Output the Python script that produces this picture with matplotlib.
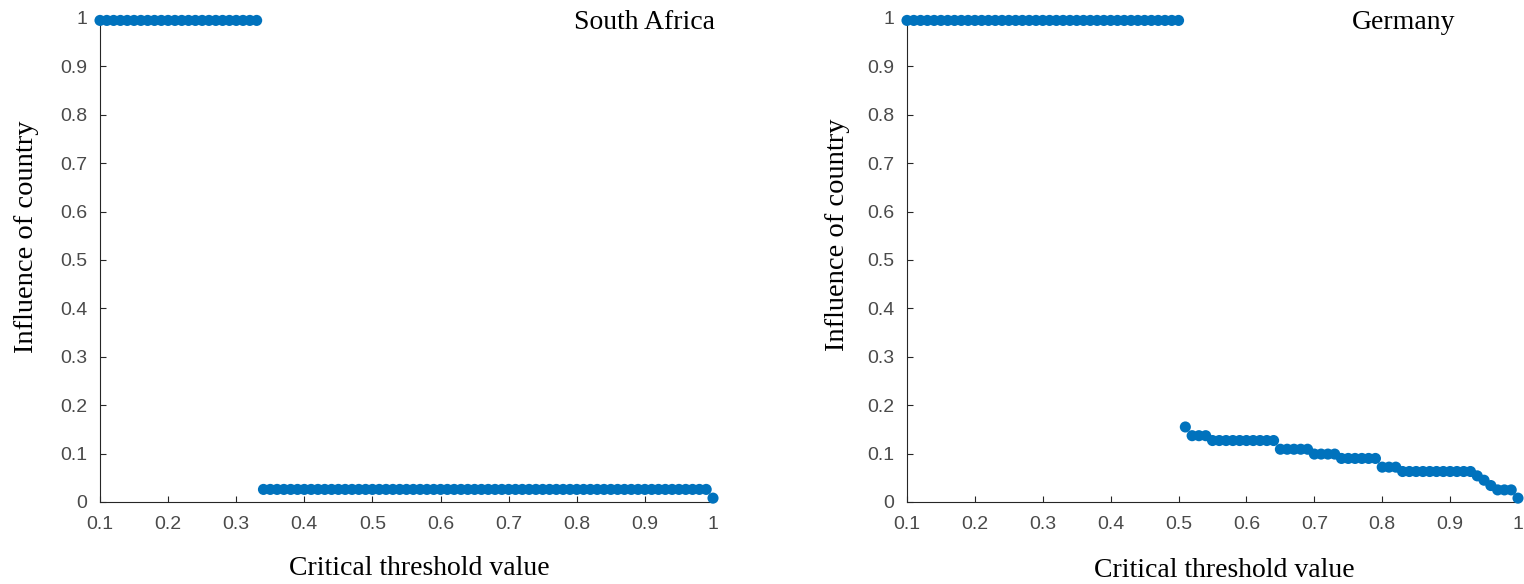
import matplotlib
matplotlib.use("Agg")
import matplotlib.pyplot as plt

# ---------------- data ----------------
thresholds = [0.10, 0.11, 0.12, 0.13, 0.14, 0.15, 0.16, 0.17, 0.18, 0.19,
              0.20, 0.21, 0.22, 0.23, 0.24, 0.25, 0.26, 0.27, 0.28, 0.29,
              0.30, 0.31, 0.32, 0.33, 0.34, 0.35, 0.36, 0.37, 0.38, 0.39,
              0.40, 0.41, 0.42, 0.43, 0.44, 0.45, 0.46, 0.47, 0.48, 0.49,
              0.50, 0.51, 0.52, 0.53, 0.54, 0.55, 0.56, 0.57, 0.58, 0.59,
              0.60, 0.61, 0.62, 0.63, 0.64, 0.65, 0.66, 0.67, 0.68, 0.69,
              0.70, 0.71, 0.72, 0.73, 0.74, 0.75, 0.76, 0.77, 0.78, 0.79,
              0.80, 0.81, 0.82, 0.83, 0.84, 0.85, 0.86, 0.87, 0.88, 0.89,
              0.90, 0.91, 0.92, 0.93, 0.94, 0.95, 0.96, 0.97, 0.98, 0.99,
              1.00]

south_africa = [0.995, 0.995, 0.995, 0.995, 0.995, 0.995, 0.995, 0.995, 0.995, 0.995,
                0.995, 0.995, 0.995, 0.995, 0.995, 0.995, 0.995, 0.995, 0.995, 0.995,
                0.995, 0.995, 0.995, 0.995, 0.026, 0.026, 0.026, 0.026, 0.026, 0.026,
                0.026, 0.026, 0.026, 0.026, 0.026, 0.026, 0.026, 0.026, 0.026, 0.026,
                0.026, 0.026, 0.026, 0.026, 0.026, 0.026, 0.026, 0.026, 0.026, 0.026,
                0.026, 0.026, 0.026, 0.026, 0.026, 0.026, 0.026, 0.026, 0.026, 0.026,
                0.026, 0.026, 0.026, 0.026, 0.026, 0.026, 0.026, 0.026, 0.026, 0.026,
                0.026, 0.026, 0.026, 0.026, 0.026, 0.026, 0.026, 0.026, 0.026, 0.026,
                0.026, 0.026, 0.026, 0.026, 0.026, 0.026, 0.026, 0.026, 0.026, 0.026,
                0.008]

germany = [0.995, 0.995, 0.995, 0.995, 0.995, 0.995, 0.995, 0.995, 0.995, 0.995,
           0.995, 0.995, 0.995, 0.995, 0.995, 0.995, 0.995, 0.995, 0.995, 0.995,
           0.995, 0.995, 0.995, 0.995, 0.995, 0.995, 0.995, 0.995, 0.995, 0.995,
           0.995, 0.995, 0.995, 0.995, 0.995, 0.995, 0.995, 0.995, 0.995, 0.995,
           0.995, 0.155, 0.137, 0.137, 0.137, 0.127, 0.127, 0.127, 0.127, 0.127,
           0.127, 0.127, 0.127, 0.127, 0.127, 0.109, 0.109, 0.109, 0.109, 0.109,
           0.099, 0.099, 0.099, 0.099, 0.090, 0.090, 0.090, 0.090, 0.090, 0.090,
           0.072, 0.072, 0.072, 0.063, 0.063, 0.063, 0.063, 0.063, 0.063, 0.063,
           0.063, 0.063, 0.063, 0.063, 0.054, 0.045, 0.034, 0.025, 0.025, 0.025,
           0.008]

countries = ["South Africa", "Germany"]
xticks = [0.1, 0.2, 0.3, 0.4, 0.5, 0.6, 0.7, 0.8, 0.9, 1.0]
xtick_labels = ["0.1", "0.2", "0.3", "0.4", "0.5", "0.6", "0.7", "0.8", "0.9", "1"]
yticks = [0.0, 0.1, 0.2, 0.3, 0.4, 0.5, 0.6, 0.7, 0.8, 0.9, 1.0]
ytick_labels = ["0", "0.1", "0.2", "0.3", "0.4", "0.5", "0.6", "0.7", "0.8", "0.9", "1"]
xlabel = "Critical threshold value"
ylabel = "Influence of country"

# ---------------- figure ----------------
W, H = 1524, 584
fig = plt.figure(figsize=(W / 100, H / 100), dpi=100)
fig.patch.set_facecolor("white")

serif = ["Liberation Serif", "DejaVu Serif"]
sans = ["Liberation Sans", "DejaVu Sans"]
marker_color = "#0072BD"
axis_color = "#262626"
tick_color = "#4a4a4a"

def px_rect(x0, x1, ytop, ybot):
    return [x0 / W, 1 - ybot / H, (x1 - x0) / W, (ybot - ytop) / H]

panels = [
    dict(rect=px_rect(100, 713, 18, 502), data=south_africa,
         title_xy=(715, 29), title_ha="right",
         xl_xy=(419, 575), yl_xy=(27, 237)),
    dict(rect=px_rect(907, 1518, 18, 502), data=germany,
         title_xy=(1404, 29), title_ha="center",
         xl_xy=(1224, 577), yl_xy=(838, 235)),
]

for name, p in zip(countries, panels):
    ax = fig.add_axes(p["rect"])
    ax.scatter(thresholds, p["data"], s=64, color=marker_color,
               edgecolors="none", clip_on=False, zorder=3)
    ax.set_xlim(0.1, 1.0)
    ax.set_ylim(0.0, 1.0)
    ax.set_xticks(xticks)
    ax.set_xticklabels(xtick_labels)
    ax.set_yticks(yticks)
    ax.set_yticklabels(ytick_labels)
    for side in ("top", "right"):
        ax.spines[side].set_visible(False)
    for side in ("left", "bottom"):
        ax.spines[side].set_color(axis_color)
        ax.spines[side].set_linewidth(0.8)
    ax.tick_params(direction="in", length=4.5, width=0.8, color=axis_color,
                   labelcolor=tick_color, labelsize=14)
    ax.tick_params(axis="x", pad=10)
    ax.tick_params(axis="y", pad=9)
    for lab in ax.get_xticklabels() + ax.get_yticklabels():
        lab.set_fontfamily(sans)

    tx, ty = p["title_xy"]
    fig.text(tx / W, 1 - ty / H, name, ha=p["title_ha"], va="baseline",
             fontsize=20, family=serif, color="black")
    lx, ly = p["xl_xy"]
    fig.text(lx / W, 1 - ly / H, xlabel, ha="center", va="baseline",
             fontsize=20, family=serif, color="black")
    yx, yy = p["yl_xy"]
    fig.text(yx / W, 1 - yy / H, ylabel, ha="center", va="center",
             rotation=90, fontsize=20.5, family=serif, color="black")

fig.savefig("out.png", dpi=100, facecolor="white")
